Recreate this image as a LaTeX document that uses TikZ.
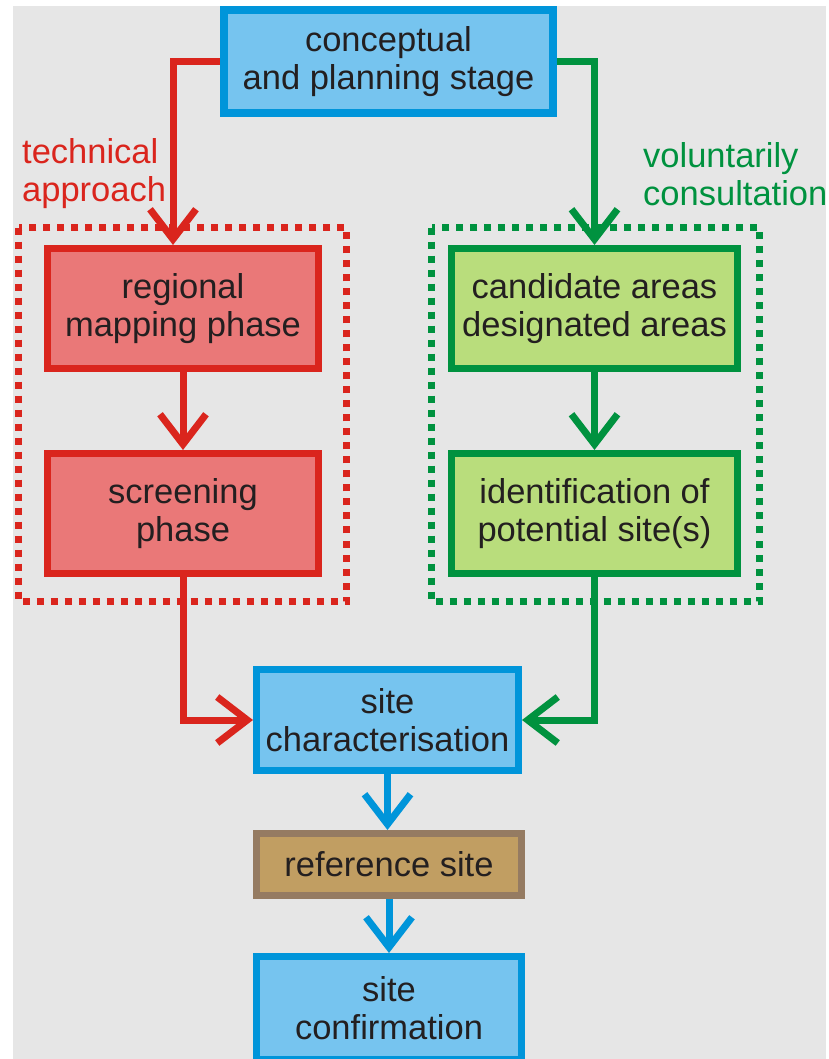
\documentclass[tikz,border=0pt]{standalone}
\usepackage{fontspec}
\setmainfont{Liberation Sans}
\usetikzlibrary{arrows.meta}
\definecolor{bgray}{HTML}{E6E6E6}
\definecolor{blueline}{HTML}{0095DA}
\definecolor{bluefill}{HTML}{76C4EF}
\definecolor{redline}{HTML}{DA251D}
\definecolor{redfill}{HTML}{EA7878}
\definecolor{greenline}{HTML}{00923F}
\definecolor{greenfill}{HTML}{B9DD7C}
\definecolor{brownline}{HTML}{957B62}
\definecolor{brownfill}{HTML}{C19E62}
\definecolor{inkdark}{HTML}{231F20}
\begin{document}
\begin{tikzpicture}[x=1bp,y=-1bp,
    box/.style={draw, line width=7bp, align=center, inner sep=0pt, text=inkdark,
      font=\fontsize{34.5bp}{38bp}\selectfont},
    bluebox/.style={box, draw=blueline, fill=bluefill},
    redbox/.style={box, draw=redline, fill=redfill, minimum width=271bp, minimum height=120bp},
    greenbox/.style={box, draw=greenline, fill=greenfill, minimum width=286bp, minimum height=120bp},
    flow/.style={line width=7bp, line join=miter, -{Straight Barb[length=30bp,width=46bp]}},
    frame/.style={line width=7bp, dash pattern=on 7bp off 7bp},
    lbl/.style={align=left, anchor=west, inner sep=0pt, font=\fontsize{34.5bp}{38bp}\selectfont}]
    \useasboundingbox (0,0) rectangle (829,1059);
    \fill[white] (0,0) rectangle (829,1059);
    \fill[bgray] (13,6) rectangle (826,1059);
    \draw[frame, redline] (18.5,227.5) rectangle (346.5,601.5);
    \draw[frame, greenline] (431.5,227.5) rectangle (759.5,601.5);
    \node[bluebox, line width=8bp, minimum width=329bp, minimum height=103bp] (concept) at (388.5,61.5) {conceptual\\and planning stage};
    \node[redbox] (regional) at (183,308.5) {regional\\mapping phase};
    \node[redbox] (screening) at (183,513.5) {screening\\phase};
    \node[greenbox] (candidate) at (594.5,308.5) {candidate areas\\designated areas};
    \node[greenbox] (ident) at (594.5,513.5) {identification of\\potential site(s)};
    \node[bluebox, minimum width=262bp, minimum height=101bp] (sitechar) at (387.5,720) {site\\characterisation};
    \node[box, draw=brownline, fill=brownfill, minimum width=265bp, minimum height=62bp] (refsite) at (389,864.5) {reference site};
    \node[bluebox, minimum width=265bp, minimum height=103bp] (confirm) at (389,1008) {site\\confirmation};
    \node[lbl, text=redline] (techlbl) at (22,174) {technical\\approach};
    \node[lbl, text=greenline] (vollbl) at (643,174) {voluntarily\\consultation};
    \draw[flow, redline] (concept.west) -| ([xshift=-10bp]regional.north);
    \draw[flow, greenline] (concept.east) -| (candidate.north);
    \draw[flow, redline] (regional) -- (screening);
    \draw[flow, greenline] (candidate) -- (ident);
    \draw[flow, redline] (screening.south) |- (sitechar.west);
    \draw[flow, greenline] (ident.south) |- (sitechar.east);
    \draw[flow, blueline] (sitechar) -- (sitechar |- refsite.north);
    \draw[flow, blueline] (refsite) -- (confirm);
\end{tikzpicture}
\end{document}
